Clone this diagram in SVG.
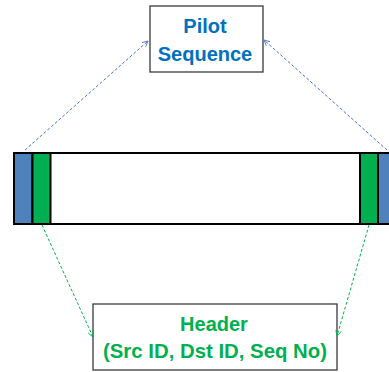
<svg xmlns="http://www.w3.org/2000/svg" width="389" height="372" viewBox="0 0 389 372">
  <style>
    .box { fill: #ffffff; stroke: #3a3a3a; stroke-width: 1.3; }
    .lbl { font-family: "Liberation Sans", Arial, sans-serif; font-weight: bold; font-size: 20px; text-anchor: middle; }
    .blue-t { fill: #0070C0; }
    .green-t { fill: #00B050; }
    .cell { stroke: #000000; stroke-width: 2; }
    .link { fill: none; stroke-width: 1; stroke-dasharray: 3 2; }
    .link-blue { stroke: #4472C4; marker-end: url(#headBlue); }
    .link-green { stroke: #00B050; marker-end: url(#headGreen); }
  </style>
  <defs>
    <marker id="headBlue" viewBox="0 0 10 10" refX="9" refY="5" markerWidth="7" markerHeight="7" markerUnits="userSpaceOnUse" orient="auto">
      <path d="M1,1 L9,5 L1,9" fill="none" stroke="#4472C4" stroke-width="1.2"/>
    </marker>
    <marker id="headGreen" viewBox="0 0 10 10" refX="9" refY="5" markerWidth="7" markerHeight="7" markerUnits="userSpaceOnUse" orient="auto">
      <path d="M1,1 L9,5 L1,9" fill="none" stroke="#00B050" stroke-width="1.2"/>
    </marker>
  </defs>

  <!-- frame strip -->
  <g id="frame">
    <rect class="cell" x="14" y="153" width="380" height="71" fill="#ffffff"/>
    <rect class="cell" x="14" y="153" width="18.5" height="71" fill="#4F81BD"/>
    <rect class="cell" x="32.5" y="153" width="18" height="71" fill="#00B050"/>
    <rect class="cell" x="360" y="153" width="18" height="71" fill="#00B050"/>
    <rect class="cell" x="378" y="153" width="18" height="71" fill="#4F81BD"/>
  </g>

  <!-- pilot sequence label -->
  <g id="pilot">
    <rect class="box" x="150" y="6" width="113" height="66"/>
    <text class="lbl blue-t" x="205" y="33">Pilot</text>
    <text class="lbl blue-t" x="205" y="61">Sequence</text>
  </g>

  <!-- header label -->
  <g id="header">
    <rect class="box" x="93" y="304" width="244" height="66"/>
    <text class="lbl green-t" x="214" y="331">Header</text>
    <text class="lbl green-t" x="215" y="358" textLength="224" lengthAdjust="spacingAndGlyphs">(Src ID, Dst ID, Seq No)</text>
  </g>

  <!-- connectors -->
  <g id="connectors">
    <line class="link link-blue" x1="25" y1="150" x2="148" y2="41"/>
    <line class="link link-blue" x1="387" y1="150" x2="264" y2="40"/>
    <line class="link link-green" x1="42" y1="225" x2="93" y2="337"/>
    <line class="link link-green" x1="369" y1="225" x2="337" y2="336"/>
  </g>
</svg>
